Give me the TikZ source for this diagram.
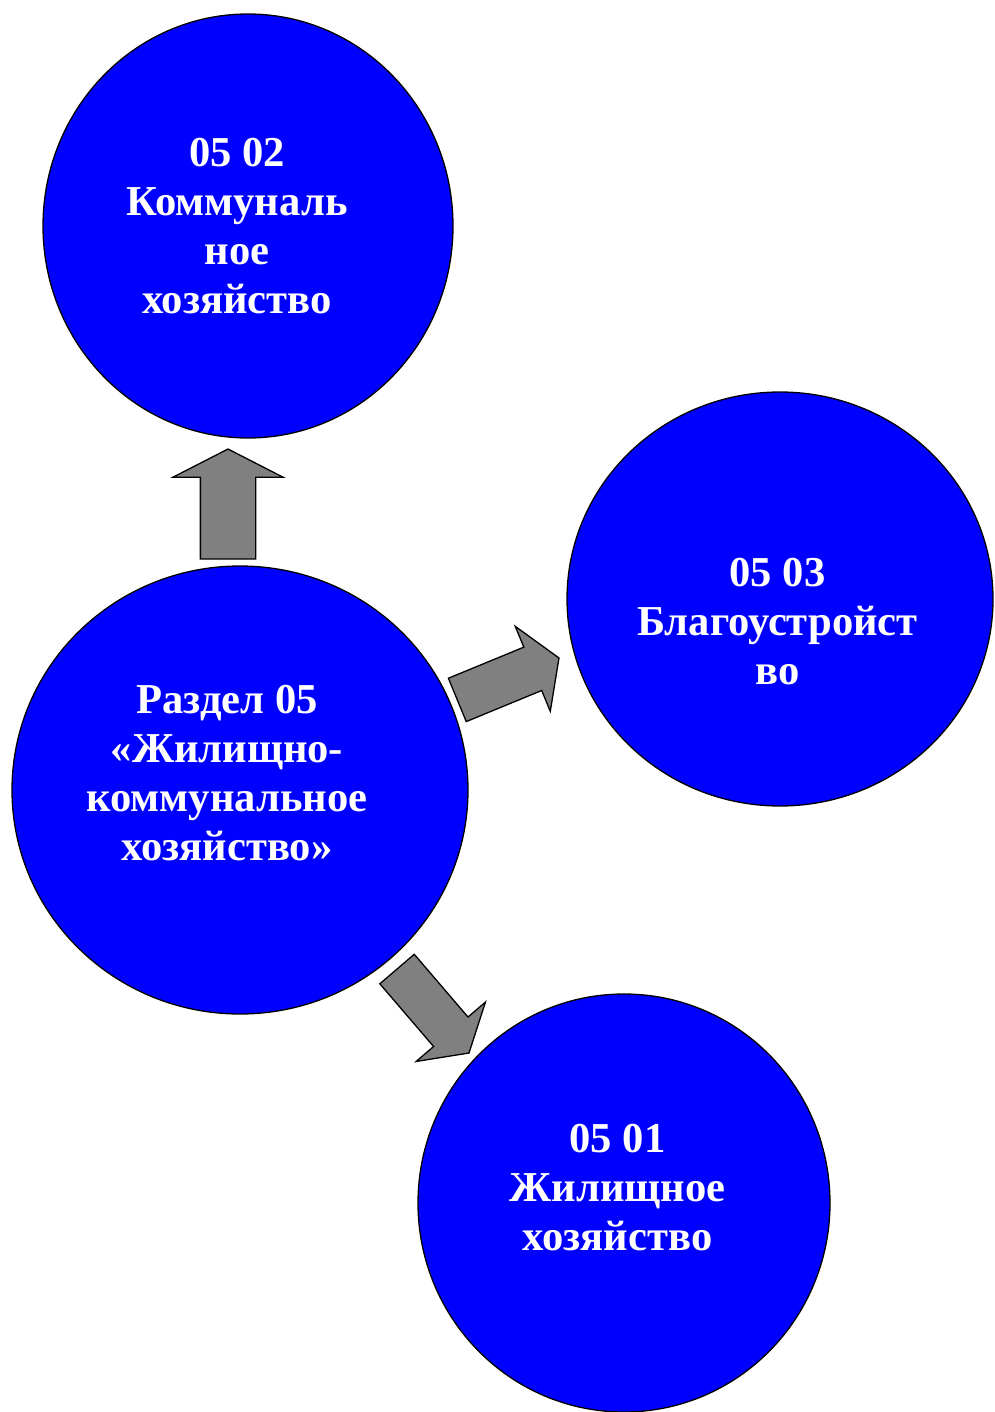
\documentclass[tikz,border=0pt]{standalone}
\usepackage{fontspec}
\setmainfont{Liberation Serif}
\usetikzlibrary{shapes.geometric, shapes.arrows}

\definecolor{discblue}{RGB}{0,0,255}
\definecolor{arrowgray}{RGB}{128,128,128}

\begin{document}
\begin{tikzpicture}[
    x=1pt, y=-1pt,
    disc/.style={ellipse, draw=black, line width=1.3pt, fill=discblue, inner sep=0pt},
    caption/.style={text=white, align=center, inner sep=0pt, font=\bfseries\fontsize{42.6}{49}\selectfont},
    blockarrow/.style={single arrow, draw=black, line width=1.3pt, fill=arrowgray, anchor=tip,
        inner xsep=0pt, outer sep=0pt, single arrow head indent=0pt}
]
\useasboundingbox (0,0) rectangle (994,1412);

% Circles
\node (Kommunal) [disc, minimum width=410pt, minimum height=424pt] at (248,226) {};
\node (Blago) [disc, minimum width=426pt, minimum height=414pt] at (780,599) {};
\node (Zhilishch) [disc, minimum width=412pt, minimum height=418pt] at (624,1203) {};
\node (Razdel) [disc, minimum width=456pt, minimum height=448pt] at (240,790) {};

% Texts
\node (KommunalText) [caption] at (237,226) {05 02\\Коммуналь\\ное\\хозяйство};
\node (BlagoText) [caption] at (777.5,621.5) {05 03\\Благоустройст\\во};
\node (ZhilishchText) [caption] at (617.5,1188) {05 01\\Жилищное\\хозяйство};
\node (RazdelText) [caption] at (227,773.5) {Раздел 05\\«Жилищно-\\коммунальное\\хозяйство»};

% Arrows
\node (ArrUp) [blockarrow, rotate=90, minimum height=110pt, inner ysep=27pt,
    single arrow head extend=27.5pt, single arrow tip angle=125.7] at (228,449) {};
\node (ArrRight) [blockarrow, rotate=22.4, minimum height=110pt, inner ysep=22.8pt,
    single arrow head extend=22.5pt, single arrow tip angle=116.6] at (559,658) {};
\node (ArrDown) [blockarrow, rotate=-49.4, minimum height=110.6pt, inner ysep=22pt,
    single arrow head extend=23pt, single arrow tip angle=117] at (469,1053) {};

\end{tikzpicture}
\end{document}
